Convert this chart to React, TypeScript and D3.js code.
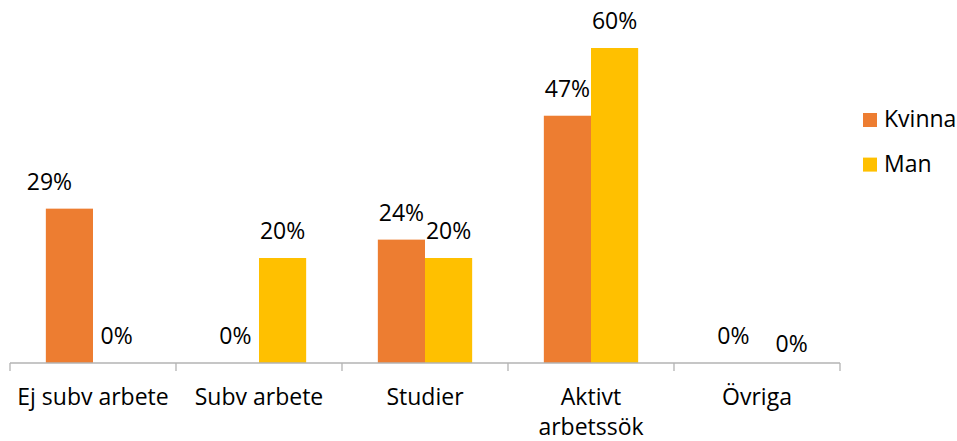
import React from "react";
import * as d3 from "d3";

const categories: string[][] = [
  ["Ej subv arbete"],
  ["Subv arbete"],
  ["Studier"],
  ["Aktivt", "arbetssök"],
  ["Övriga"],
];
const seriesNames = ["Kvinna", "Man"];
const kvinna = [0.294, 0, 0.235, 0.471, 0];
const man = [0, 0.2, 0.2, 0.6, 0];
const colors = ["#ED7D31", "#FFC000"];

// small manual nudges of a few data labels, as in the reference
const labelNudge: Record<string, [number, number]> = {
  "0-0": [-20, 0],
  "4-1": [11, 8],
};

const W = 957;
const H = 441;
const FONT = "'Open Sans', 'Noto Sans', sans-serif";
const FS = 23;

export default function App() {
  const baseline = 363;
  const x0 = d3
    .scaleBand<number>()
    .domain(categories.map((_, i) => i))
    .range([10, 840])
    .paddingInner(0)
    .paddingOuter(0);
  const x1 = d3
    .scaleBand<number>()
    .domain([0, 1])
    .range([0, x0.bandwidth()])
    .paddingInner(0)
    .paddingOuter(0.76);
  const y = d3.scaleLinear().domain([0, 0.6]).range([baseline, 48]);
  const fmt = d3.format(".0%");
  const series = [kvinna, man];
  const ticks = d3.range(categories.length + 1).map((i) => 10 + i * x0.step());

  return (
    <svg
      width={W}
      height={H}
      style={{ position: "fixed", left: 0, top: 0, background: "#fff" }}
      fontFamily={FONT}
    >
      <rect width={W} height={H} fill="#fff" />
      {series.map((vals, s) =>
        vals.map((v, i) => {
          const bx = (x0(i) ?? 0) + (x1(s) ?? 0);
          return (
            <rect
              key={`b-${s}-${i}`}
              x={bx}
              y={y(v)}
              width={x1.bandwidth()}
              height={baseline - y(v)}
              fill={colors[s]}
            />
          );
        })
      )}
      <line x1={10} x2={840} y1={baseline} y2={baseline} stroke="#b3b3b3" strokeWidth={1.3} />
      {ticks.map((t, i) => (
        <line key={`t-${i}`} x1={t} x2={t} y1={baseline} y2={baseline + 8} stroke="#b3b3b3" strokeWidth={1.3} />
      ))}
      {series.map((vals, s) =>
        vals.map((v, i) => {
          const cx = (x0(i) ?? 0) + (x1(s) ?? 0) + x1.bandwidth() / 2;
          const n = labelNudge[`${i}-${s}`] || [0, 0];
          return (
            <text
              key={`l-${s}-${i}`}
              x={cx + n[0]}
              y={y(v) - 19 + n[1]}
              textAnchor="middle"
              fontSize={FS}
              fill="#000"
            >
              {fmt(v)}
            </text>
          );
        })
      )}
      {categories.map((lines, i) => (
        <text
          key={`c-${i}`}
          x={(x0(i) ?? 0) + x0.bandwidth() / 2}
          y={405}
          textAnchor="middle"
          fontSize={FS}
          fill="#000"
        >
          {lines.map((ln, j) => (
            <tspan key={j} x={(x0(i) ?? 0) + x0.bandwidth() / 2} dy={j === 0 ? 0 : 30}>
              {ln}
            </tspan>
          ))}
        </text>
      ))}
      {seriesNames.map((name, s) => (
        <g key={`lg-${s}`} transform={`translate(863, ${113 + s * 44.6})`}>
          <rect width={14} height={14} fill={colors[s]} />
          <text x={21} y={14} fontSize={FS} fill="#000">
            {name}
          </text>
        </g>
      ))}
    </svg>
  );
}
